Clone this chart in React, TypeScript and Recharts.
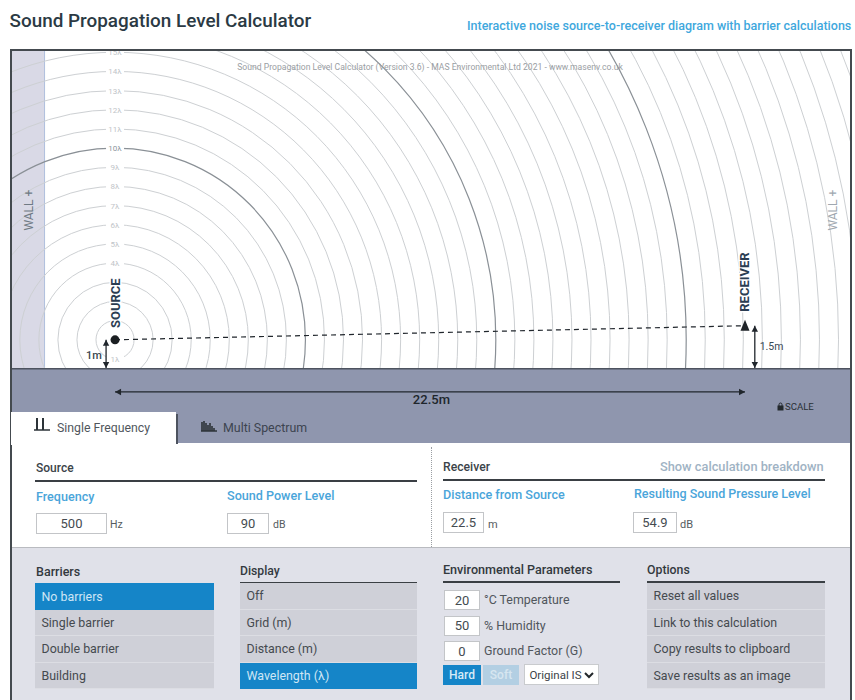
import React from "react";
import { ScatterChart, Scatter, XAxis, YAxis, ReferenceArea } from "recharts";

// ---- chart data (metres) ----
const wavelengthM = 0.68;
const ringOrders = [1,2,3,4,5,6,7,8,9,10,11,12,13,14,15,16,17,18,19,20,21,22,23,24,25,26,27,28,29,30,31,32,33,34,35,36,37,38,39,40,41];
const strongRings = [10, 20, 30];
const labelledRings = [4,5,6,7,8,9,10,11,12,13,14,15];
const sourceHeight = 1;
const receiverHeight = 1.5;
const receiverDistance = 22.5;
const groundDepth = -2.66;
const xDomain = [-3.68, 26.25];
const yDomain = [groundDepth, 11.28];
const wallEnd = -2.5;
const sourcePoint = [{ x: 0, y: sourceHeight }];
const receiverPoint = [{ x: receiverDistance, y: receiverHeight }];
const sightLine = [{ x: 0, y: sourceHeight }, { x: receiverDistance, y: receiverHeight }];
const distanceArrow = [{ x: 0, y: -0.85, dir: "left" }, { x: receiverDistance, y: -0.85, dir: "right" }];
const sourceArrow = [{ x: -0.32, y: sourceHeight, dir: "up" }, { x: -0.32, y: 0, dir: "down" }];
const receiverArrow = [{ x: 22.85, y: receiverHeight, dir: "up" }, { x: 22.85, y: 0, dir: "down" }];
const chartTexts = [
  { x: 0, y: 2.3, text: "SOURCE", rotate: -90, size: 13, weight: 700, color: "#2b3d52", halo: true },
  { x: 22.5, y: 3.05, text: "RECEIVER", rotate: -90, size: 13, weight: 700, color: "#2b3d52", halo: true },
  { x: -0.75, y: 0.46, text: "1m", rotate: 0, size: 11, weight: 500, color: "#3a4650", halo: false },
  { x: 23.45, y: 0.78, text: "1.5m", rotate: 0, size: 10.5, weight: 400, color: "#3a4a55", halo: false },
  { x: 11.3, y: -1.13, text: "22.5m", rotate: 0, size: 13, weight: 500, color: "#20262c", halo: false },
  { x: -3.08, y: 5.6, text: "WALL +", rotate: -90, size: 12, weight: 400, color: "#6f7a84", halo: false },
  { x: 25.65, y: 5.6, text: "WALL +", rotate: -90, size: 12, weight: 400, color: "#a0a8b0", halo: false },
  { x: 11.25, y: 10.67, text: "Sound Propagation Level Calculator (Version 3.6) - MAS Environmental Ltd 2021 - www.masenv.co.uk", rotate: 0, size: 8.6, weight: 400, color: "#9a9ea3", halo: false },
];

// ---- panel data ----
const barrierItems = ["No barriers", "Single barrier", "Double barrier", "Building"];
const displayItems = ["Off", "Grid (m)", "Distance (m)", "Wavelength (λ)"];
const optionItems = ["Reset all values", "Link to this calculation", "Copy results to clipboard", "Save results as an image"];
const envItems = [["20", "°C Temperature"], ["50", "% Humidity"], ["0", "Ground Factor (G)"]];

const FONT = "Roboto, 'Noto Sans', sans-serif";
const BLUE = "#1585c8";
const LABEL_BLUE = "#4aa5da";

const ringLine = (order: number) => (props: any) => {
  const [c, rimX, rimY, cornerA, cornerB] = props.points;
  const strong = strongRings.includes(order);
  const id = `ring-clip-${order}`;
  return (
    <g>
      <clipPath id={id}>
        <rect
          x={cornerA.x}
          y={cornerB.y}
          width={cornerB.x - cornerA.x}
          height={cornerA.y - cornerB.y}
        />
      </clipPath>
      <ellipse
        clipPath={`url(#${id})`}
        cx={c.x}
        cy={c.y}
        rx={Math.abs(rimX.x - c.x)}
        ry={Math.abs(rimY.y - c.y)}
        fill="none"
        stroke={strong ? "#8a9096" : "#cdd0d3"}
        strokeWidth={strong ? 1.2 : 1}
      />
    </g>
  );
};

const NoDot = () => <g />;

const RingLabel = (props: any) => {
  const { cx, cy, payload } = props;
  const dark = payload.order === 10;
  return (
    <g>
      <rect x={cx - 9} y={cy - 5} width={18} height={10} fill="#fff" />
      <text x={cx} y={cy + 3} textAnchor="middle" fontFamily={FONT} fontSize={8} fill={dark ? "#8d969e" : "#c0c4c8"}>
        {payload.order}λ
      </text>
    </g>
  );
};

const ArrowHead = (props: any) => {
  const { cx, cy, payload } = props;
  const s = 3.2;
  const l = 6;
  const pts: Record<string, string> = {
    left: `${cx},${cy} ${cx + l},${cy - s} ${cx + l},${cy + s}`,
    right: `${cx},${cy} ${cx - l},${cy - s} ${cx - l},${cy + s}`,
    up: `${cx},${cy} ${cx - s},${cy + l} ${cx + s},${cy + l}`,
    down: `${cx},${cy} ${cx - s},${cy - l} ${cx + s},${cy - l}`,
  };
  return <polygon points={pts[payload.dir]} fill="#20262c" />;
};

const SourceDot = (props: any) => <circle cx={props.cx} cy={props.cy} r={4.5} fill="#1b1f22" />;
const ReceiverMark = (props: any) => {
  const { cx, cy } = props;
  return <polygon points={`${cx},${cy - 6} ${cx - 4.5},${cy + 5} ${cx + 4.5},${cy + 5}`} fill="#1f2328" />;
};

const ChartText = (props: any) => {
  const { cx, cy, payload: p } = props;
  return (
    <text
      x={cx}
      y={cy}
      textAnchor="middle"
      dominantBaseline="central"
      transform={p.rotate ? `rotate(${p.rotate} ${cx} ${cy})` : undefined}
      fontFamily={FONT}
      fontSize={p.size}
      fontWeight={p.weight}
      fill={p.color}
      stroke={p.halo ? "#fff" : "none"}
      strokeWidth={p.halo ? 3 : 0}
      paintOrder="stroke"
    >
      {p.text}
    </text>
  );
};

const T = ({ x, y, children, size = 12.4, color = "#3b4349", weight = 400, width }: any) => (
  <div
    style={{
      position: "absolute",
      left: x,
      top: y,
      transform: "translateY(-50%)",
      fontSize: size,
      color,
      fontWeight: weight,
      whiteSpace: "nowrap",
      width,
      lineHeight: 1,
    }}
  >
    {children}
  </div>
);

const Box = ({ x, y, w, h, bg, border, children }: any) => (
  <div
    style={{
      position: "absolute",
      left: x,
      top: y,
      width: w,
      height: h,
      background: bg,
      border,
      boxSizing: "border-box",
      display: "flex",
      alignItems: "center",
      justifyContent: "center",
    }}
  >
    {children}
  </div>
);

const Input = ({ x, y, w, h = 21, value }: any) => (
  <Box x={x} y={y} w={w} h={h} bg="#fff" border="1px solid #c3c5c8">
    <span style={{ fontSize: 13, color: "#444b50" }}>{value}</span>
  </Box>
);

const Rule = ({ x, y, w, color = "#3a3f44" }: any) => <Box x={x} y={y} w={w} h={1.5} bg={color} />;

const ListRows = ({ x, w, items, active, top }: any) => (
  <>
    {items.map((item: string, i: number) => (
      <div
        key={item}
        style={{
          position: "absolute",
          left: x,
          top: top + i * 26.5,
          width: w,
          height: 26.5,
          boxSizing: "border-box",
          paddingLeft: 6.5,
          display: "flex",
          alignItems: "center",
          fontSize: 12.4,
          background: i === active ? BLUE : "#cfd0d8",
          color: i === active ? "#cfe6f5" : "#454a4f",
          borderBottom: i === active ? "none" : "1px solid #dcdde3",
        }}
      >
        {item}
      </div>
    ))}
  </>
);

const BarsIcon = ({ x, y, multi }: any) => (
  <svg style={{ position: "absolute", left: x, top: y }} width={16} height={14}>
    <path d="M0 13 H16" stroke="#2c3338" strokeWidth={1.5} />
    {multi ? (
      <path d="M1 13 V4 M3 13 V3 M5 13 V5 M7 13 V7 M9 13 V5 M11 13 V8 M13 13 V10" stroke="#2c3338" strokeWidth={1.6} />
    ) : (
      <path d="M3 13 V1 M9 13 V1" stroke="#2c3338" strokeWidth={2} />
    )}
  </svg>
);

export default function App() {
  return (
    <div style={{ position: "absolute", left: 0, top: 0, width: 855, height: 700, overflow: "hidden", background: "#fff", fontFamily: FONT }}>
      <T x={9.5} y={21} size={18.9} color="#2b3a44" weight={500}>Sound Propagation Level Calculator</T>
      <T x={467} y={26} size={12.5} color="#3fa8dd" weight={500}>Interactive noise source-to-receiver diagram with barrier calculations</T>

      {/* lower panels sit under the chart */}
      <Box x={10} y={443} w={842} h={104} bg="#fff" />
      <Box x={10} y={547} w={842} h={153} bg="#e0e1e9" />
      <Box x={10} y={547} w={842} h={1} bg="#b9bbc0" />

      <div style={{ position: "absolute", left: 0, top: 0 }}>
        <ScatterChart width={855} height={700} margin={{ left: 12, right: 5, top: 50, bottom: 257 }}>
          <XAxis type="number" dataKey="x" domain={xDomain} hide allowDataOverflow />
          <YAxis type="number" dataKey="y" domain={yDomain} hide allowDataOverflow />
          <ReferenceArea x1={xDomain[0]} x2={wallEnd} y1={0} y2={yDomain[1]} fill="#d9d9e6" fillOpacity={1} stroke="none" />
          <ReferenceArea x1={wallEnd - 0.03} x2={wallEnd} y1={0} y2={yDomain[1]} fill="#a9bbdc" fillOpacity={1} stroke="none" />
          <ReferenceArea x1={xDomain[0]} x2={xDomain[1]} y1={yDomain[0]} y2={0} fill="#8f96ae" fillOpacity={1} stroke="none" />
          <ReferenceArea x1={xDomain[0]} x2={xDomain[1]} y1={-0.05} y2={0} fill="#4d535f" fillOpacity={1} stroke="none" />
          {ringOrders.map((order) => {
            const r = order * wavelengthM;
            return (
              <Scatter
                key={order}
                isAnimationActive={false}
                data={[
                  { x: 0, y: sourceHeight },
                  { x: r, y: sourceHeight },
                  { x: 0, y: sourceHeight + r },
                  { x: xDomain[0], y: 0 },
                  { x: xDomain[1], y: yDomain[1] },
                ]}
                shape={NoDot}
                line={ringLine(order)}
              />
            );
          })}
          <Scatter
            isAnimationActive={false}
            data={labelledRings.map((order) => ({ x: 0, y: sourceHeight + order * wavelengthM, order }))}
            shape={RingLabel}
          />
          <Scatter isAnimationActive={false} data={[{ x: 0, y: sourceHeight - wavelengthM, order: 1 }]} shape={RingLabel} />
          <Scatter isAnimationActive={false} data={sightLine} shape={NoDot} line={{ stroke: "#20262c", strokeWidth: 1.2, strokeDasharray: "5 4" }} />
          <Scatter isAnimationActive={false} data={distanceArrow} shape={ArrowHead} line={{ stroke: "#20262c", strokeWidth: 1.3 }} />
          <Scatter isAnimationActive={false} data={sourceArrow} shape={ArrowHead} line={{ stroke: "#20262c", strokeWidth: 1.3 }} />
          <Scatter isAnimationActive={false} data={receiverArrow} shape={ArrowHead} line={{ stroke: "#20262c", strokeWidth: 1.3 }} />
          <Scatter isAnimationActive={false} data={sourcePoint} shape={SourceDot} />
          <Scatter isAnimationActive={false} data={receiverPoint} shape={ReceiverMark} />
          <Scatter isAnimationActive={false} data={chartTexts} shape={ChartText} />
        </ScatterChart>
      </div>

      {/* frame */}
      <Box x={10} y={49} w={842} h={1.5} bg="#444a4f" />
      <Box x={10} y={49} w={1.5} h={651} bg="#444a4f" />
      <Box x={850} y={49} w={1.5} h={651} bg="#444a4f" />

      {/* scale lock */}
      <svg style={{ position: "absolute", left: 777, top: 402 }} width={7} height={9}>
        <rect x={0.5} y={3.5} width={6} height={5} fill="#23282c" />
        <path d="M2 4 V2.5 a1.5 1.5 0 0 1 3 0 V4" stroke="#23282c" fill="none" />
      </svg>
      <T x={785} y={406.5} size={9.6} color="#2a3036" weight={400}>SCALE</T>

      {/* tabs */}
      <Box x={11} y={412} w={165} h={33} bg="#fff" />
      <Box x={176} y={414} w={1.5} h={30} bg="#4d535f" />
      <BarsIcon x={34} y={417} />
      <T x={57} y={428} size={12.3} color="#50565c">Single Frequency</T>
      <BarsIcon x={201} y={418} multi />
      <T x={223} y={428} size={12.4} color="#3d4450">Multi Spectrum</T>

      {/* source */}
      <T x={36} y={468} size={12} color="#3b4349" weight={500}>Source</T>
      <Rule x={35} y={480} w={382} />
      <T x={36} y={497} size={12.6} color={LABEL_BLUE} weight={500}>Frequency</T>
      <T x={227} y={496} size={12.6} color={LABEL_BLUE} weight={500}>Sound Power Level</T>
      <Input x={36} y={513} w={71} value="500" />
      <T x={110} y={525} size={10.5} color="#555b60">Hz</T>
      <Input x={227} y={513} w={42} value="90" />
      <T x={273} y={525} size={10.5} color="#555b60">dB</T>

      {/* divider */}
      <div style={{ position: "absolute", left: 431, top: 447, height: 100, borderLeft: "1px dotted #9a9ea3" }} />

      {/* receiver */}
      <T x={443} y={467} size={12.2} color="#3b4349" weight={500}>Receiver</T>
      <T x={660} y={467} size={12.8} color="#9fb3c4" weight={500}>Show calculation breakdown</T>
      <Rule x={443} y={479} w={382} />
      <T x={443} y={495} size={12.6} color={LABEL_BLUE} weight={500}>Distance from Source</T>
      <T x={634} y={494} size={12.5} color={LABEL_BLUE} weight={500}>Resulting Sound Pressure Level</T>
      <Input x={443} y={512} w={41} value="22.5" />
      <T x={488} y={524} size={11} color="#555b60">m</T>
      <Input x={633} y={512} w={44} value="54.9" />
      <T x={680} y={524} size={11} color="#555b60">dB</T>

      {/* barriers */}
      <T x={36} y={572} size={12.5} color="#33393e" weight={500}>Barriers</T>
      <ListRows x={35} w={179} items={barrierItems} active={0} top={583} />

      {/* display */}
      <T x={240} y={571} size={12.2} color="#33393e" weight={500}>Display</T>
      <Rule x={240} y={582} w={177} />
      <ListRows x={240} w={177} items={displayItems} active={3} top={583} />

      {/* environment */}
      <T x={443} y={570} size={12.6} color="#33393e" weight={500}>Environmental Parameters</T>
      <Rule x={443} y={581} w={177} />
      {envItems.map(([value, label], i) => (
        <React.Fragment key={label}>
          <Input x={444} y={590 + i * 25.5} w={36} h={20} value={value} />
          <T x={484} y={600 + i * 25.5} size={12.4} color="#50565c">{label}</T>
        </React.Fragment>
      ))}
      <Box x={443} y={665} w={38} h={20} bg={BLUE}><span style={{ color: "#d7ebf7", fontSize: 12, fontWeight: 500 }}>Hard</span></Box>
      <Box x={483} y={665} w={36} h={20} bg="#b3cfe3"><span style={{ color: "#d7e6f0", fontSize: 12, fontWeight: 500 }}>Soft</span></Box>
      <Box x={524} y={664} w={75} h={21} bg="#fff" border="1px solid #c9cbce">
        <span style={{ fontSize: 11.5, color: "#3d4348", whiteSpace: "nowrap" }}>Original IS</span>
        <svg width={10} height={8} style={{ marginLeft: 2 }}><path d="M1 2 L5 6 L9 2" stroke="#22272b" strokeWidth={2} fill="none" /></svg>
      </Box>

      {/* options */}
      <T x={647} y={570} size={12.3} color="#33393e" weight={500}>Options</T>
      <Rule x={647} y={581} w={178} />
      <ListRows x={647} w={178} items={optionItems} active={-1} top={583} />
    </div>
  );
}
